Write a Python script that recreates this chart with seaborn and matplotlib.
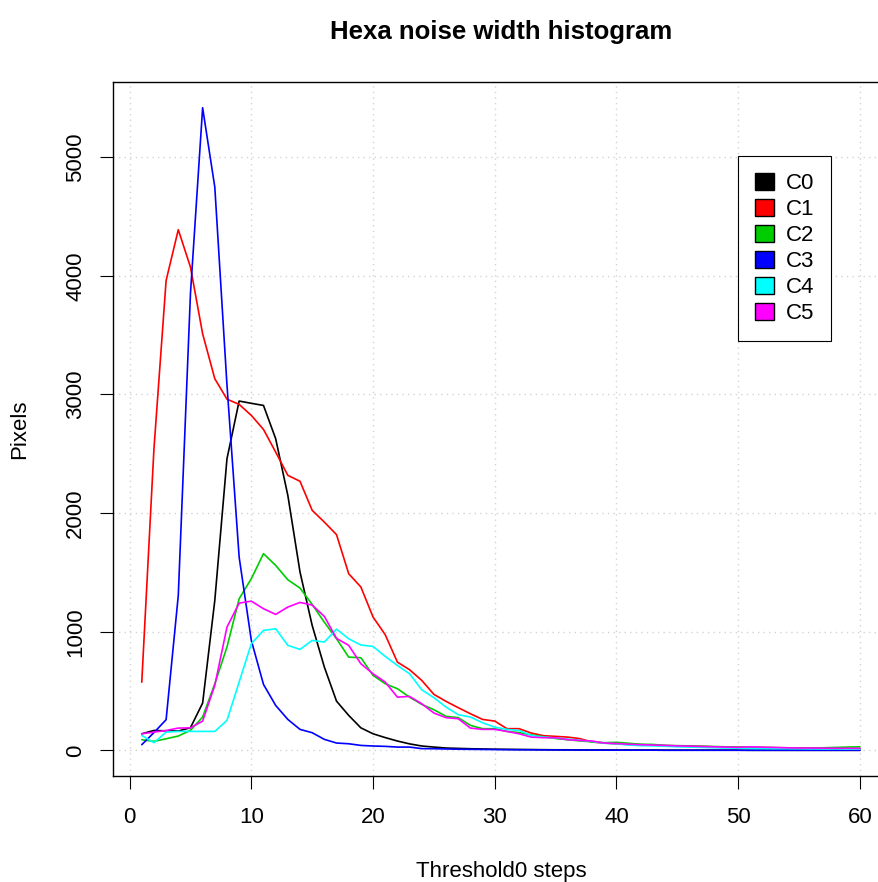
import matplotlib
matplotlib.use('Agg')
import matplotlib.pyplot as plt
from matplotlib.patches import Patch
import pandas as pd
import seaborn as sns
import numpy as np

# Data (Threshold0 steps 1..60)
steps = list(range(1, 61))
channels = ['C0', 'C1', 'C2', 'C3', 'C4', 'C5']
colors = ['black', 'red', '#00CD00', 'blue', 'cyan', 'magenta']

c0 = [140, 168, 165, 163, 191, 399, 1264, 2458, 2944, 2925,
      2907, 2627, 2149, 1503, 1053, 702, 415, 295, 190, 140,
      108, 79, 55, 37, 28, 20, 17, 14, 12, 10,
      9, 8, 7, 6, 5, 5, 4, 4, 4, 3,
      3, 3, 3, 2, 2, 2, 2, 2, 2, 2,
      1, 1, 1, 1, 1, 1, 1, 1, 1, 1]
c1 = [575, 2540, 3960, 4388, 4073, 3511, 3132, 2960, 2916, 2823,
      2705, 2514, 2318, 2268, 2023, 1924, 1818, 1489, 1377, 1124,
      975, 744, 680, 590, 472, 413, 360, 309, 261, 247,
      183, 183, 146, 124, 118, 112, 99, 70, 62, 55,
      50, 48, 45, 40, 38, 35, 33, 30, 28, 26,
      25, 23, 22, 20, 19, 18, 17, 16, 15, 15]
c2 = [90, 76, 98, 121, 169, 281, 562, 871, 1278, 1447,
      1658, 1559, 1438, 1368, 1230, 1080, 941, 786, 781, 632,
      562, 520, 449, 388, 343, 287, 276, 211, 183, 183,
      160, 150, 130, 115, 100, 90, 80, 72, 65, 68,
      60, 52, 50, 42, 40, 38, 35, 33, 30, 28,
      27, 25, 23, 22, 20, 20, 22, 25, 28, 30]
c3 = [48, 150, 259, 1306, 3850, 5416, 4747, 3080, 1629, 927,
      556, 379, 261, 177, 149, 93, 62, 56, 42, 37,
      34, 28, 28, 15, 14, 12, 10, 9, 8, 7,
      6, 5, 5, 4, 4, 3, 3, 3, 2, 2,
      2, 2, 2, 1, 1, 1, 1, 1, 1, 1,
      1, 1, 1, 1, 1, 1, 1, 1, 1, 1]
c4 = [126, 65, 154, 160, 160, 160, 160, 253, 576, 899,
      1011, 1025, 885, 851, 927, 913, 1022, 941, 888, 876,
      792, 716, 646, 511, 444, 365, 301, 281, 233, 196,
      177, 168, 126, 112, 105, 95, 85, 75, 60, 55,
      45, 40, 38, 35, 30, 28, 25, 22, 20, 18,
      17, 16, 15, 15, 14, 13, 12, 12, 11, 11]
c5 = [140, 154, 168, 188, 190, 247, 548, 1039, 1241, 1258,
      1194, 1146, 1208, 1247, 1225, 1129, 944, 885, 730, 646,
      576, 449, 455, 393, 315, 276, 267, 188, 177, 177,
      160, 140, 112, 107, 107, 90, 84, 79, 62, 58,
      52, 48, 45, 42, 38, 36, 33, 30, 28, 26,
      30, 27, 25, 22, 20, 20, 19, 18, 18, 17]

series = [c0, c1, c2, c3, c4, c5]
df = pd.DataFrame({
    'step': steps * len(channels),
    'pixels': sum(series, []),
    'channel': np.repeat(channels, len(steps)),
})

sns.set_style('white')
plt.rcParams['font.family'] = ['Liberation Sans', 'DejaVu Sans']
plt.rcParams['text.color'] = 'black'
plt.rcParams['axes.labelcolor'] = 'black'
plt.rcParams['xtick.color'] = 'black'
plt.rcParams['ytick.color'] = 'black'

fig = plt.figure(figsize=(8.79, 8.82), dpi=100)
ax = fig.add_axes([0.1286, 0.1202, 0.8824, 0.7868])

sns.lineplot(data=df, x='step', y='pixels', hue='channel', palette=colors,
             linewidth=1.2, legend=False, ax=ax)

# R style axis limits (4% padding)
xmin, xmax = min(steps), max(steps)
ymin, ymax = df['pixels'].min(), df['pixels'].max()
ax.set_xlim(xmin - 0.04 * (xmax - xmin), xmax + 0.04 * (xmax - xmin))
ax.set_ylim(ymin - 0.04 * (ymax - ymin), ymax + 0.04 * (ymax - ymin))

ax.set_xticks(np.arange(0, 61, 10))
ax.set_yticks(np.arange(0, 5001, 1000))
ax.grid(True, color='lightgray', linestyle=(0, (1, 3)), linewidth=1)
ax.set_axisbelow(True)
ax.tick_params(axis='both', direction='out', length=9.4, width=0.8,
               color='black', labelcolor='black', labelsize=16,
               bottom=True, left=True)
ax.tick_params(axis='x', pad=13)
ax.tick_params(axis='y', pad=10)
for lab in ax.get_yticklabels():
    lab.set_rotation(90)
    lab.set_va('center')
for sp in ax.spines.values():
    sp.set_color('black')
    sp.set_linewidth(1)
ax.spines['right'].set_visible(False)

ax.set_xlabel('Threshold0 steps', fontsize=16, color='black')
ax.set_ylabel('Pixels', fontsize=16, color='black')
ax.xaxis.set_label_coords(0.5, -0.137)
ax.xaxis.label.set_va('center')
ax.yaxis.set_label_coords(-0.12, 0.5)
ax.yaxis.label.set_va('center')
ax.set_title('Hexa noise width histogram', fontsize=18.5, fontweight='bold',
             color='black', y=1.06, va='center')

handles = [Patch(facecolor=c, edgecolor='black', label=n) for c, n in zip(colors, channels)]
leg = ax.legend(handles=handles, loc='upper left',
                bbox_to_anchor=(738 / 879, 1 - 156 / 882), bbox_transform=fig.transFigure,
                fontsize=16, frameon=True, fancybox=False, framealpha=1,
                edgecolor='black', borderpad=0.75, labelspacing=0.2,
                handlelength=0.85, handleheight=0.85, handletextpad=0.55,
                borderaxespad=0)
leg.get_frame().set_linewidth(0.8)
for t in leg.get_texts():
    t.set_color('black')

fig.savefig('out.png', dpi=100)
